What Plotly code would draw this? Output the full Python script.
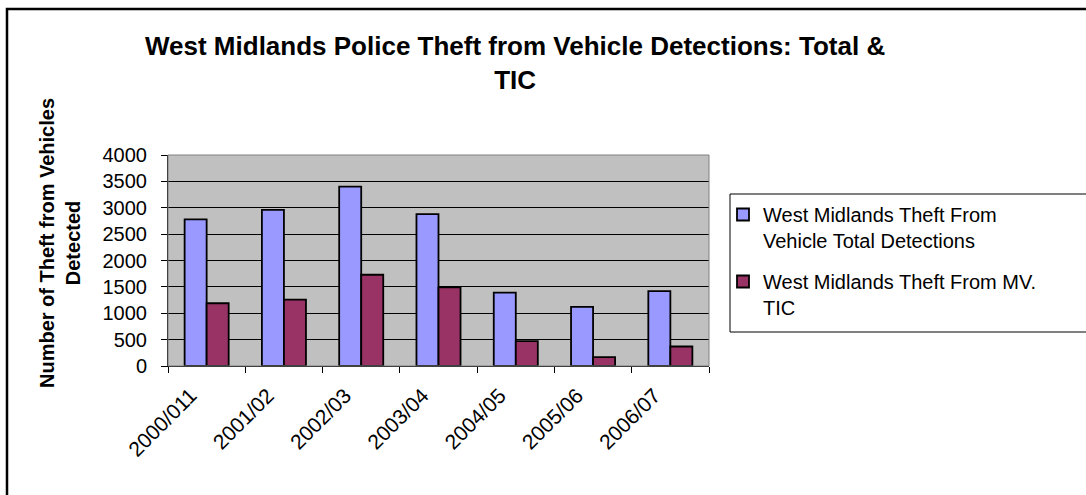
import plotly.graph_objects as go

# Financial years and detection counts
years = ["2000/011", "2001/02", "2002/03", "2003/04", "2004/05", "2005/06", "2006/07"]
total_detections = [2780, 2960, 3400, 2880, 1390, 1120, 1420]
tic_detections = [1190, 1260, 1730, 1490, 470, 170, 370]

series_names = [
    "West Midlands Theft From<br>Vehicle Total Detections",
    "West Midlands Theft From MV.<br>TIC",
]
series_colors = ["#9999FF", "#993366"]

W, H = 1086, 495
L, R, T, B = 168, 709, 155, 366  # plot area in pixels
pw, ph = R - L, B - T


def px_x(x):
    return (x - L) / pw


def px_y(y):
    return (B - y) / ph


fig = go.Figure()
for name, vals, col, grp in zip(series_names, [total_detections, tic_detections], series_colors, ["a", "b"]):
    fig.add_trace(go.Bar(
        x=years, y=vals, name=name, legendgroup=grp,
        marker=dict(color=col, line=dict(color="black", width=1.8)),
    ))

font = "Liberation Sans, Arial, sans-serif"

fig.update_layout(
    width=W, height=H,
    margin=dict(l=L, r=W - R, t=T, b=H - B, autoexpand=False),
    paper_bgcolor="white",
    plot_bgcolor="#C0C0C0",
    barmode="group",
    bargap=0.43,
    bargroupgap=0,
    showlegend=True,
    legend=dict(
        x=px_x(723), y=px_y(195), xanchor="left", yanchor="top",
        font=dict(family=font, size=20, color="black"),
        bgcolor="rgba(0,0,0,0)", borderwidth=0,
        tracegroupgap=12, valign="top",
    ),
    font=dict(family=font, color="black"),
)

fig.update_xaxes(
    type="category", tickson="boundaries", ticks="outside", ticklen=6,
    tickcolor="black", tickangle=-45,
    tickfont=dict(family=font, size=21, color="black"),
    ticklabelshift=-16, ticklabelstandoff=8,
    showline=True, linecolor="black", linewidth=1,
    showgrid=False,
)
fig.update_yaxes(
    range=[0, 4000], dtick=500, tick0=0,
    ticks="outside", ticklen=6, tickcolor="black",
    tickfont=dict(family=font, size=20, color="black"),
    ticklabelstandoff=10,
    showline=True, linecolor="black", linewidth=1,
    showgrid=True, gridcolor="black", gridwidth=1,
    zeroline=False,
)

shapes = [
    # plot area border
    dict(type="rect", xref="paper", yref="paper", x0=0, x1=1, y0=0, y1=1,
         line=dict(color="#808080", width=1), layer="above"),
    # legend frame
    dict(type="rect", xref="paper", yref="paper",
         x0=px_x(730), x1=px_x(1100), y0=px_y(332), y1=px_y(194),
         line=dict(color="black", width=1), fillcolor="rgba(0,0,0,0)"),
    # chart frame
    dict(type="rect", xref="paper", yref="paper",
         x0=px_x(7), x1=px_x(1100), y0=px_y(510), y1=px_y(9),
         line=dict(color="black", width=2.5), fillcolor="rgba(0,0,0,0)"),
]
fig.update_layout(shapes=shapes)

fig.add_annotation(
    xref="paper", yref="paper", x=px_x(515), y=px_y(63),
    text="<b>West Midlands Police Theft from Vehicle Detections: Total &<br>TIC</b>",
    showarrow=False, xanchor="center", yanchor="middle",
    font=dict(family=font, size=26, color="black"), align="center",
)
fig.add_annotation(
    xref="paper", yref="paper", x=px_x(60), y=px_y(243),
    text="<b>Number of Theft from Vehicles<br>Detected</b>",
    showarrow=False, xanchor="center", yanchor="middle", textangle=-90,
    font=dict(family=font, size=20, color="black"), align="center",
)

fig.write_html("out.html")
